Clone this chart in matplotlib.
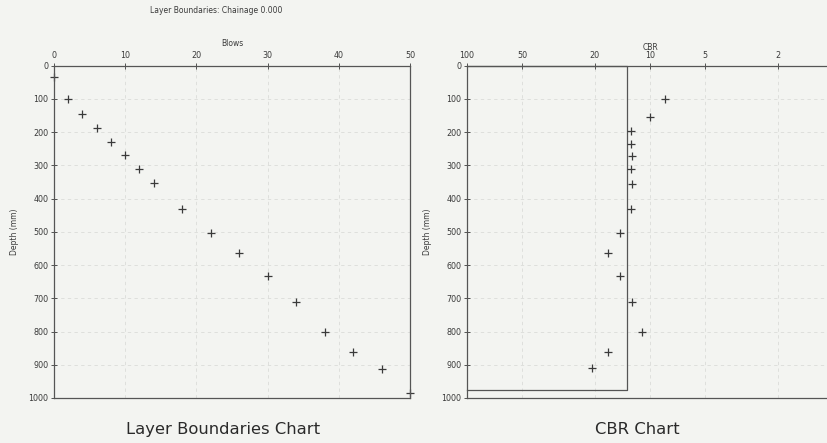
import matplotlib
matplotlib.use('Agg')
import matplotlib.pyplot as plt

# Layer boundaries data (blows vs depth)
blows = [0, 2, 4, 6, 8, 10, 12, 14, 18, 22, 26, 30, 34, 38, 42, 46, 50]
blow_depth = [35, 100, 145, 188, 230, 268, 310, 353, 432, 504, 565, 633, 711, 802, 862, 913, 985]

# CBR data
cbr = [8.3, 10.0, 12.7, 12.7, 12.6, 12.7, 12.5, 12.7, 14.6, 17.0, 14.6, 12.6, 11.0, 17.0, 20.8]
cbr_depth = [100, 153, 196, 235, 273, 312, 355, 432, 504, 565, 633, 711, 802, 862, 911]

# layer box on the CBR chart
box_cbr = [100, 13.4, 13.4, 100]
box_depth = [0, 0, 976, 976]

depth_ticks = list(range(0, 1001, 100))
blow_ticks = [0, 10, 20, 30, 40, 50]
cbr_ticks = [100, 50, 20, 10, 5, 2]

bg = '#f3f4f1'
ink = '#3a3a3a'
plt.rcParams['font.family'] = 'DejaVu Sans'
plt.rcParams['font.size'] = 5.5

fig = plt.figure(figsize=(8.27, 4.43), dpi=100, facecolor=bg)

def style(ax):
    ax.set_facecolor(bg)
    ax.set_ylim(1000, 0)
    ax.set_yticks(depth_ticks)
    ax.xaxis.tick_top()
    ax.xaxis.set_label_position('top')
    ax.tick_params(axis='both', direction='inout', length=4, width=0.6,
                   colors=ink, labelsize=5.8, pad=2)
    for s in ax.spines.values():
        s.set_color('#555555')
        s.set_linewidth(0.9)
    ax.grid(True, color='#dadcd8', linestyle=(0, (4, 4)), linewidth=0.6)
    ax.set_ylabel('Depth (mm)', fontsize=5.5, color=ink, labelpad=7)

# left chart
ax1 = fig.add_axes([0.0653, 0.1016, 0.4305, 0.75])
style(ax1)
ax1.set_xlim(0, 50)
ax1.set_xticks(blow_ticks)
ax1.plot(blows, blow_depth, linestyle='none', marker='+', color=ink,
         markersize=6, mew=0.9, clip_on=False)
ax1.set_xlabel('Blows', fontsize=5.5, color=ink, labelpad=4)

# right chart
ax2 = fig.add_axes([0.5647, 0.1016, 0.4426, 0.75])
style(ax2)
ax2.set_xscale('log')
ax2.set_xlim(100, 1)
ax2.set_xticks(cbr_ticks)
ax2.set_xticklabels([str(t) for t in cbr_ticks])
ax2.minorticks_off()
ax2.spines['right'].set_visible(False)
ax2.plot(box_cbr, box_depth, color='#555555', linewidth=0.9, clip_on=False)
ax2.plot(cbr, cbr_depth, linestyle='none', marker='+', color=ink,
         markersize=6, mew=0.9, clip_on=False)
ax2.set_xlabel('CBR', fontsize=5.5, color=ink, labelpad=1)

fig.text(0.261, 0.977, 'Layer Boundaries: Chainage 0.000', ha='center', va='center',
         fontsize=5.5, color=ink)
fig.text(0.270, 0.03, 'Layer Boundaries Chart', ha='center', va='center',
         fontsize=11.8, color='#2a2a2a')
fig.text(0.771, 0.03, 'CBR Chart', ha='center', va='center',
         fontsize=11.8, color='#2a2a2a')

fig.savefig('out.png', dpi=100, facecolor=bg)
